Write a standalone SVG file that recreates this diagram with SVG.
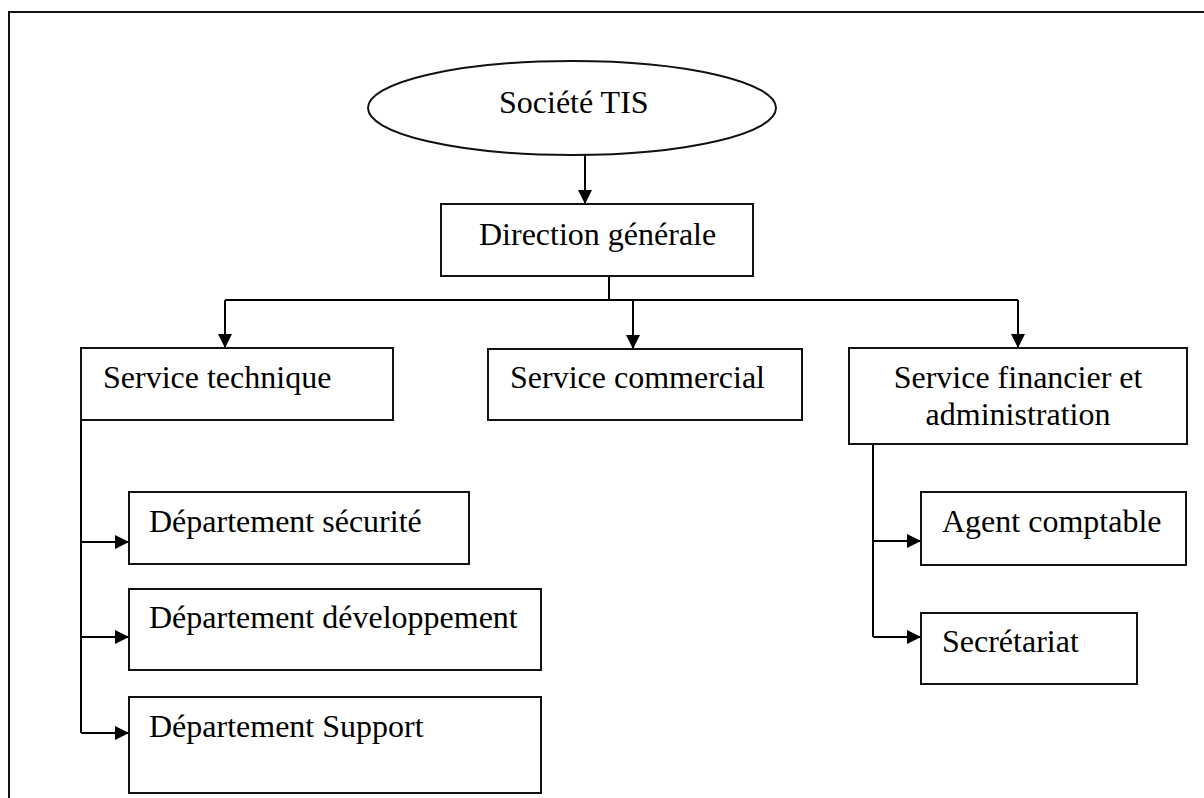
<svg xmlns="http://www.w3.org/2000/svg" width="1204" height="798" viewBox="0 0 1204 798">
  <defs>
    <marker id="arrow" markerUnits="userSpaceOnUse" markerWidth="16" markerHeight="16" viewBox="0 0 16 16" refX="15" refY="8" orient="auto">
      <path d="M1,1 L15,8 L1,15 Z" fill="#000"/>
    </marker>
    <style>
      .box { fill: #fff; stroke: #111; stroke-width: 2; }
      .lbl { font-family: "Liberation Serif", "Times New Roman", serif; font-size: 32px; fill: #000; }
      .mid { text-anchor: middle; }
      .link { fill: none; stroke: #000; stroke-width: 2; }
    </style>
  </defs>

  <rect width="1204" height="798" fill="#fff"/>
  <!-- page frame -->
  <rect x="9" y="12" width="1210" height="800" fill="none" stroke="#111" stroke-width="2"/>

  <g id="connectors">
    <path class="link" d="M585,155 V204" marker-end="url(#arrow)"/>
    <path class="link" d="M609,276 V300"/>
    <path class="link" d="M225,300 H1018"/>
    <path class="link" d="M225,300 V348" marker-end="url(#arrow)"/>
    <path class="link" d="M633,300 V349" marker-end="url(#arrow)"/>
    <path class="link" d="M1018,300 V348" marker-end="url(#arrow)"/>
    <path class="link" d="M81,420 V733"/>
    <path class="link" d="M81,542 H129" marker-end="url(#arrow)"/>
    <path class="link" d="M81,637 H129" marker-end="url(#arrow)"/>
    <path class="link" d="M81,733 H129" marker-end="url(#arrow)"/>
    <path class="link" d="M873,444 V637"/>
    <path class="link" d="M873,541 H921" marker-end="url(#arrow)"/>
    <path class="link" d="M873,637 H921" marker-end="url(#arrow)"/>
  </g>

  <g id="societe">
    <ellipse class="box" cx="572" cy="108" rx="204" ry="47"/>
    <text class="lbl" x="499" y="113">Société TIS</text>
  </g>

  <g id="direction">
    <rect class="box" x="441" y="204" width="312" height="72"/>
    <text class="lbl" x="479" y="245">Direction générale</text>
  </g>

  <g id="service-technique">
    <rect class="box" x="81" y="348" width="312" height="72"/>
    <text class="lbl" x="103" y="388">Service technique</text>
  </g>

  <g id="service-commercial">
    <rect class="box" x="488" y="349" width="314" height="71"/>
    <text class="lbl" x="510" y="388">Service commercial</text>
  </g>

  <g id="service-financier">
    <rect class="box" x="849" y="348" width="338" height="96"/>
    <text class="lbl mid" x="1018" y="388">Service financier et</text>
    <text class="lbl mid" x="1018" y="425">administration</text>
  </g>

  <g id="dep-securite">
    <rect class="box" x="129" y="492" width="340" height="72"/>
    <text class="lbl" x="149" y="532">Département sécurité</text>
  </g>

  <g id="dep-developpement">
    <rect class="box" x="129" y="589" width="412" height="81"/>
    <text class="lbl" x="149" y="628">Département développement</text>
  </g>

  <g id="dep-support">
    <rect class="box" x="129" y="697" width="412" height="96"/>
    <text class="lbl" x="149" y="737">Département Support</text>
  </g>

  <g id="agent-comptable">
    <rect class="box" x="921" y="492" width="265" height="73"/>
    <text class="lbl" x="942" y="532">Agent comptable</text>
  </g>

  <g id="secretariat">
    <rect class="box" x="921" y="613" width="216" height="71"/>
    <text class="lbl" x="942" y="652">Secrétariat</text>
  </g>
</svg>
